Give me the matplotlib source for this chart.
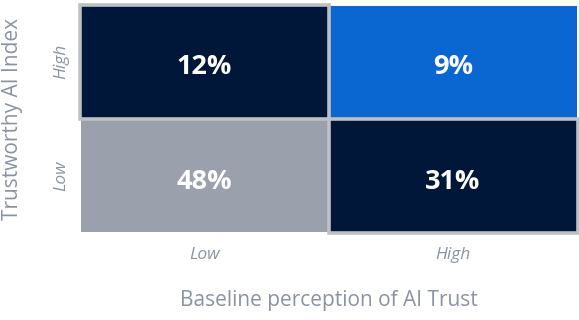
import numpy as np
import matplotlib.pyplot as plt
from matplotlib.colors import ListedColormap
import matplotlib.patches as mpatches

# ------------------------------------------------------------
# Data: share of respondents per quadrant
# ------------------------------------------------------------
x_categories = ["Low", "High"]          # Baseline perception of AI Trust
y_categories = ["Low", "High"]          # Trustworthy AI Index (bottom -> top)

# rows follow y_categories (Low, High); columns follow x_categories
shares = np.array([
    [48, 31],
    [12, 9],
])

# colour group of each quadrant: 0 = navy, 1 = blue, 2 = grey
quadrant_group = np.array([
    [2, 0],
    [0, 1],
])

# quadrants that get an outline
highlighted = [(0, 1), (1, 0)]   # (row, col)

NAVY = "#01173A"
BLUE = "#0A66D0"
GREY = "#9AA1AC"
OUTLINE = "#BEC0C3"
TEXT_GREY = "#8A93A3"

plt.rcParams["font.family"] = ["Open Sans", "DejaVu Sans"]

fig = plt.figure(figsize=(5.79, 3.2), dpi=100)
ax = fig.add_axes([80 / 579, 1 - 233 / 320, 497.5 / 579, 228.5 / 320])

cmap = ListedColormap([NAVY, BLUE, GREY])
ax.pcolormesh(np.arange(3) - 0.5, np.arange(3) - 0.5, quadrant_group,
              cmap=cmap, vmin=-0.5, vmax=2.5,
              edgecolor="white", linewidth=1.2)

for r, c in highlighted:
    ax.add_patch(mpatches.Rectangle((c - 0.5, r - 0.5), 1, 1,
                                    fill=False, edgecolor=OUTLINE,
                                    linewidth=2.6, clip_on=False, zorder=3))

# percentage labels, nudged a little below the cell centre
for r in range(shares.shape[0]):
    for c in range(shares.shape[1]):
        ax.annotate(f"{shares[r, c]}%", (c, r), xytext=(0, -2),
                    textcoords="offset points", ha="center",
                    va="center_baseline", color="white", fontsize=19.5,
                    fontweight="bold", zorder=4)

ax.set_xlim(-0.5, 1.5)
ax.set_ylim(-0.5, 1.5)

ax.set_xticks(range(len(x_categories)))
ax.set_xticklabels(x_categories, fontsize=12.5, style="italic", color=TEXT_GREY)
ax.set_yticks(range(len(y_categories)))
ax.set_yticklabels(y_categories, fontsize=12.5, style="italic", color=TEXT_GREY,
                   rotation=90, va="center")
ax.tick_params(axis="x", length=0, pad=10)
ax.tick_params(axis="y", length=0, pad=8)

ax.set_xlabel("Baseline perception of AI Trust", fontsize=15, color=TEXT_GREY)
ax.xaxis.set_label_coords(0.5, -0.25)
ax.set_ylabel("Trustworthy AI Index", fontsize=15, color=TEXT_GREY)
ax.yaxis.set_label_coords(-0.115, 0.5)

for s in ax.spines.values():
    s.set_visible(False)

fig.savefig("out.png", dpi=100, facecolor="white")
